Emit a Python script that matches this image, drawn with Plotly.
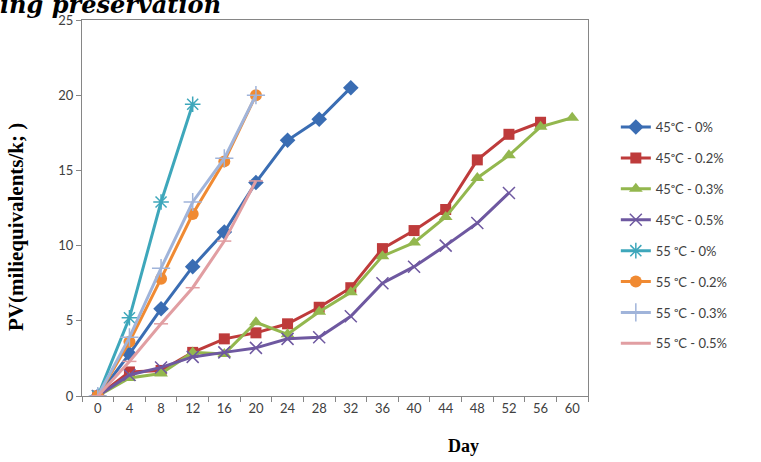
import plotly.graph_objects as go

days = ["0", "4", "8", "12", "16", "20", "24", "28", "32", "36", "40", "44", "48", "52", "56", "60"]

names = ["45\u1d52C - 0%", "45\u1d52C - 0.2%", "45\u1d52C - 0.3%", "45\u1d52C - 0.5%",
         "55 \u1d52C - 0%", "55 \u1d52C - 0.2%", "55 \u1d52C - 0.3%", "55 \u1d52C - 0.5%"]

pv_45_0 = [0, 2.8, 5.8, 8.6, 10.9, 14.2, 17.0, 18.4, 20.5]
pv_45_02 = [0, 1.6, 1.7, 2.9, 3.8, 4.2, 4.8, 5.9, 7.2, 9.8, 11.0, 12.4, 15.7, 17.4, 18.2]
pv_45_03 = [0, 1.2, 1.5, 2.9, 2.8, 4.9, 4.1, 5.6, 6.9, 9.3, 10.2, 11.9, 14.5, 16.0, 17.9, 18.5]
pv_45_05 = [0, 1.4, 1.9, 2.6, 2.9, 3.2, 3.8, 3.9, 5.3, 7.5, 8.6, 10.0, 11.5, 13.5]
pv_55_0 = [0, 5.2, 12.9, 19.4]
pv_55_02 = [0, 3.6, 7.8, 12.1, 15.6, 20.0]
pv_55_03 = [0, 3.9, 8.5, 12.9, 15.8, 20.0]
pv_55_05 = [0, 2.3, 4.8, 7.2, 10.3, 14.3]

series = [pv_45_0, pv_45_02, pv_45_03, pv_45_05, pv_55_0, pv_55_02, pv_55_03, pv_55_05]
colors = ["#3A6DB3", "#BE3B3B", "#93B74E", "#6E58A0", "#3EA7BB", "#F08A32", "#A0B4DA", "#E19EA2"]
symbols = ["diamond", "square", "triangle-up", "x-thin", "asterisk", "circle", "cross-thin", "line-ew"]
msizes = [12, 11, 12, 12, 13, 12, 13, 10]

fig = go.Figure()
for i, (nm, ys) in enumerate(zip(names, series)):
    sym = symbols[i]
    thin = sym in ("x-thin", "asterisk", "cross-thin", "line-ew")
    fig.add_trace(go.Scatter(
        x=days[:len(ys)], y=ys, name=nm, mode="lines+markers",
        line=dict(color=colors[i], width=3),
        marker=dict(symbol=sym, size=msizes[i], color=colors[i],
                    line=dict(color=colors[i], width=1.5 if thin else 0)),
        legendgroup="g%d" % i,
    ))

tickfont = dict(family="Lato, Open Sans, sans-serif", size=13, color="#404040")

fig.update_layout(
    width=761, height=462,
    margin=dict(l=82, r=173, t=16, b=66),
    paper_bgcolor="white", plot_bgcolor="white",
    showlegend=True,
    legend=dict(x=1.055, y=0.755, xanchor="left", yanchor="top",
                font=dict(family="Lato, Open Sans, sans-serif", size=13, color="#404040"),
                tracegroupgap=11, bgcolor="rgba(0,0,0,0)"),
    xaxis=dict(type="category", categoryorder="array", categoryarray=days,
               range=[-0.5, 15.5], tickson="boundaries", ticks="outside", ticklen=5,
               tickcolor="#868686", showline=True, linecolor="#868686", linewidth=1,
               mirror=True, showgrid=False, zeroline=False, tickfont=tickfont),
    yaxis=dict(range=[0, 25], dtick=5, ticks="outside", ticklen=5, tickcolor="#868686",
               showline=True, linecolor="#868686", linewidth=1, mirror=True,
               showgrid=False, zeroline=False, tickfont=tickfont),
)

fig.add_annotation(text="<b>PV(miliequivalents/k; )</b>", xref="paper", yref="paper",
                   x=-0.13, y=0.45, textangle=-90, showarrow=False,
                   xanchor="center", yanchor="middle",
                   font=dict(family="Liberation Serif, Times New Roman, serif", size=21, color="#000000"))
fig.add_annotation(text="<b>Day</b>", xref="paper", yref="paper",
                   x=(463 - 82) / 506, y=-(447 - 396) / 380, showarrow=False,
                   xanchor="center", yanchor="middle",
                   font=dict(family="Liberation Serif, Times New Roman, serif", size=18, color="#000000"))
fig.add_annotation(text="<b><i>ing preservation</i></b>", xref="paper", yref="paper",
                   x=(-2 - 82) / 506, y=(396 - 17) / 380, showarrow=False,
                   xanchor="left", yanchor="bottom",
                   font=dict(family="DejaVu Serif, serif", size=24, color="#000000"))

fig.write_html("out.html", config={"displayModeBar": False},
               post_script="document.body.style.margin='0';document.body.style.overflow='hidden';")
